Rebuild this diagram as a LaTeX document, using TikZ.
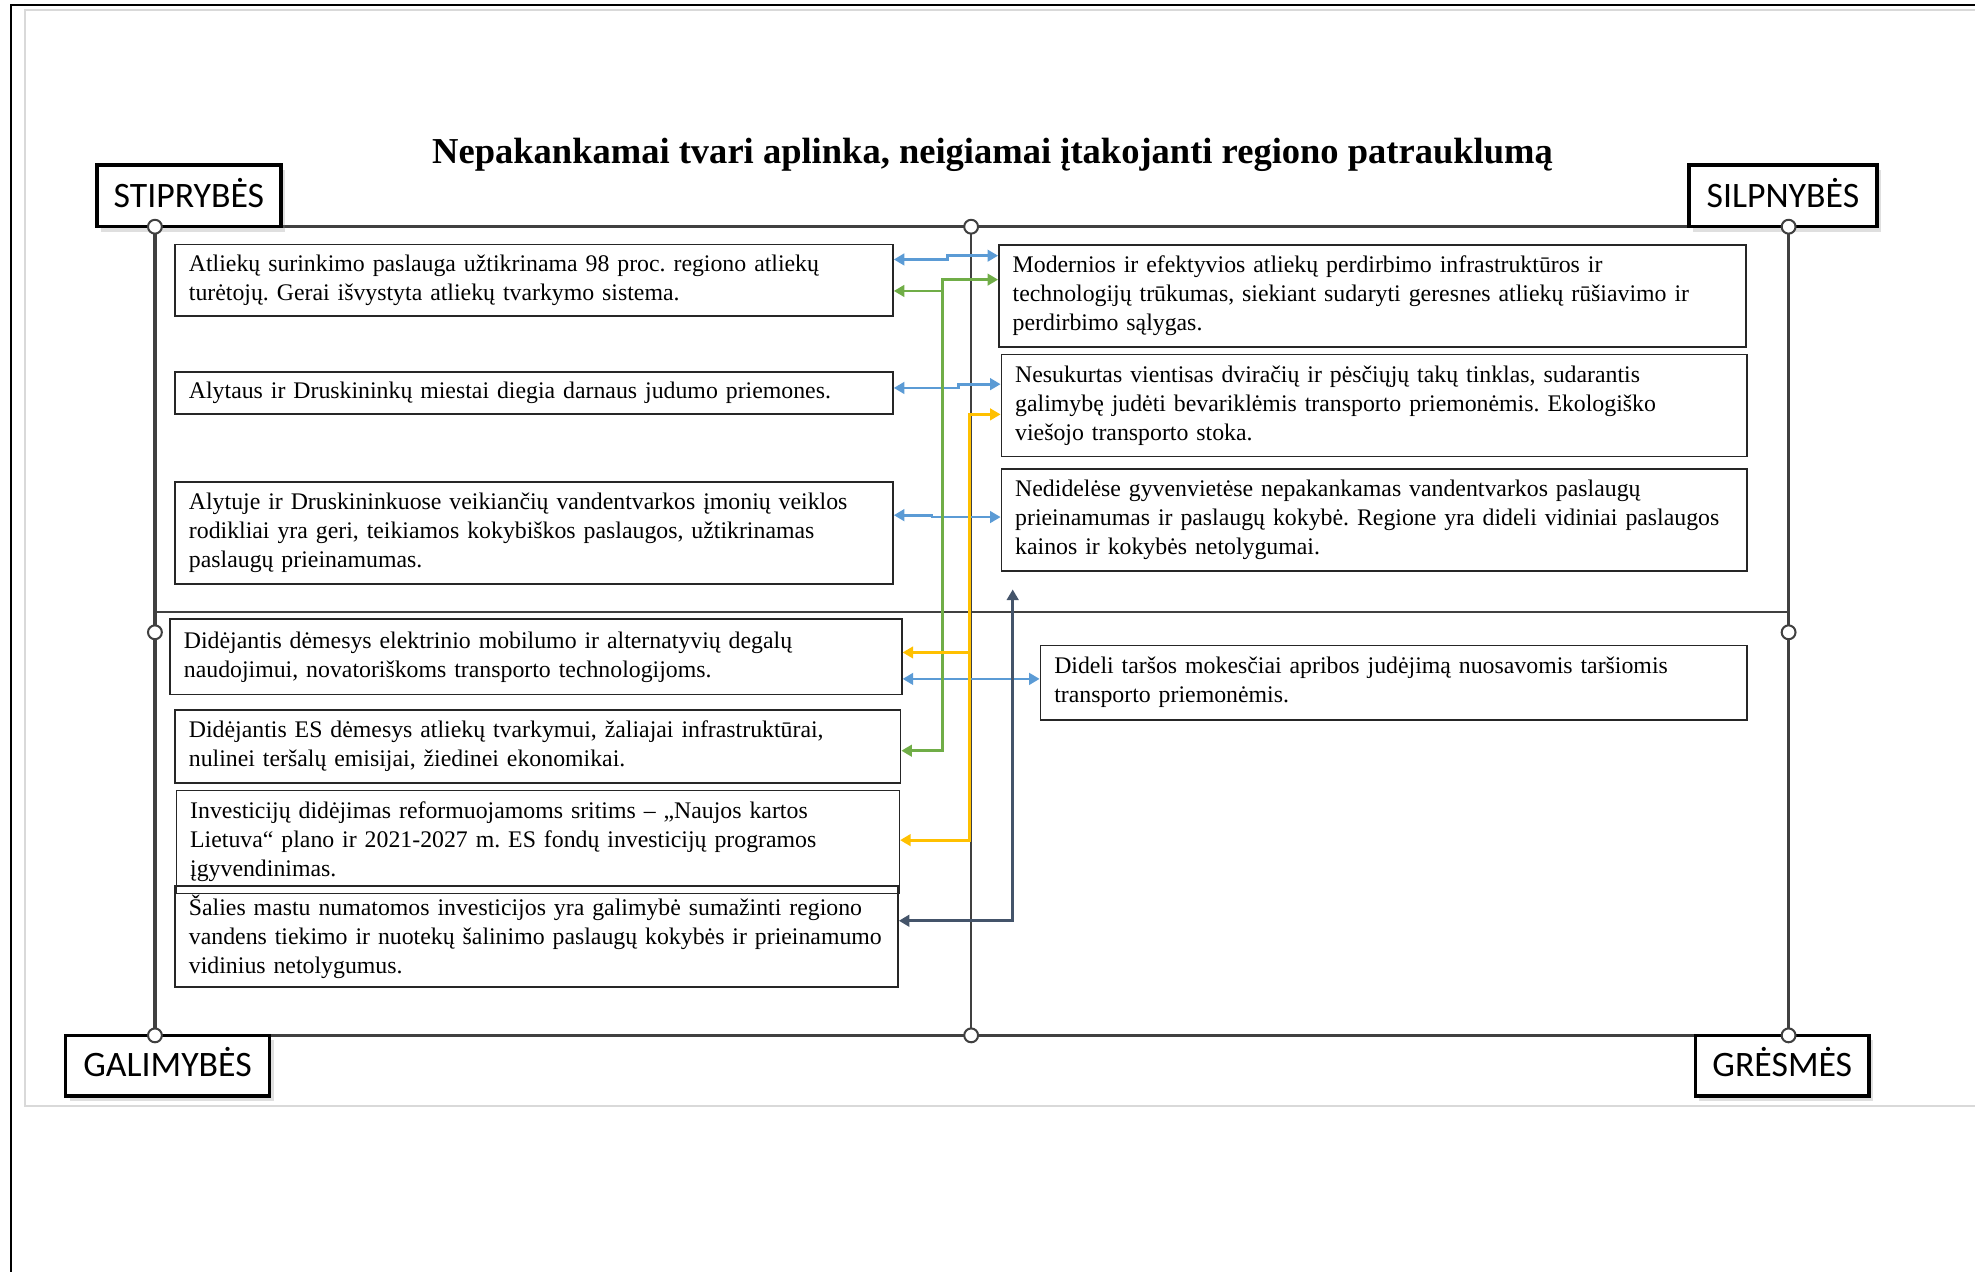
\documentclass[tikz,border=0pt]{standalone}
\usepackage{fontspec}
\setmainfont{Liberation Serif}
\newfontfamily\labelfont{Carlito}
\usetikzlibrary{arrows.meta,shadows}
\definecolor{frameline}{HTML}{404040}
\definecolor{arrowblue}{HTML}{5B9BD5}
\definecolor{arrowgreen}{HTML}{70AD47}
\definecolor{arrowyellow}{HTML}{FFC000}
\definecolor{arrowslate}{HTML}{44546A}
\frenchspacing
\begin{document}
\begin{tikzpicture}[x=0.5pt,y=-0.5pt,>={Triangle[length=4.2pt,width=4.6pt]},
  box/.style={draw=black!85,line width=0.6pt,inner xsep=5.5pt,inner ysep=0pt,align=left,
    font=\fontsize{9.45}{11.5}\selectfont},
  swot/.style={draw=black,line width=1.4pt,fill=white,inner sep=0pt,text height=9pt,text depth=0pt,
    font=\labelfont\fontsize{14.2}{16}\selectfont,
    drop shadow={shadow xshift=1.6pt,shadow yshift=-2pt,opacity=0.25}},
  link/.style={line width=1.1pt},
  hub/.style={circle,draw=frameline,fill=white,line width=0.8pt,inner sep=0pt,minimum size=5.5pt}]
\useasboundingbox (0,0) rectangle (1568,1010);
% page edges
\draw[black!15,line width=1pt] (1568,8) -- (20,8) -- (20,878) -- (1568,878);
\draw[line width=0.8pt] (1568,4) -- (9,4) -- (9,1010);
% title
\node[font=\bfseries\fontsize{14.5}{17}\selectfont,anchor=base] (title) at (788,130)
  {Nepakankamai tvari aplinka, neigiamai įtakojanti regiono patrauklumą};
% frame
\draw[frameline,line width=1.3pt] (123,180) rectangle (1420,822);
\draw[frameline,line width=0.9pt] (771,180) -- (771,822);
\draw[frameline,line width=0.9pt] (123,486) -- (1420,486);
% quadrant labels
\node[swot,minimum width=73pt,minimum height=24.5pt] (str) at (150,155.5) {STIPRYBĖS};
\node[swot,minimum width=74.5pt,minimum height=24.5pt] (wea) at (1415.5,155.5) {SILPNYBĖS};
\node[swot,minimum width=81pt,minimum height=24pt] (opp) at (133,846) {GALIMYBĖS};
\node[swot,minimum width=69pt,minimum height=24pt] (thr) at (1415,846) {GRĖSMĖS};
\foreach \x/\y in {123/180,771/180,1420/180,123/502,1420/502,123/822,771/822,1420/822}
  \node[hub] (hub\x-\y) at (\x,\y) {};
% strengths
\node[box,text width=274pt,minimum height=28.5pt] (s1) at (424,222.5)
  {Atliekų surinkimo paslauga užtikrinama 98 proc. regiono atliekų\\turėtojų. Gerai išvystyta atliekų tvarkymo sistema.};
\node[box,text width=274pt,minimum height=16.5pt] (s2) at (424,312)
  {Alytaus ir Druskininkų miestai diegia darnaus judumo priemones.};
\node[box,text width=274pt,minimum height=40.5pt] (s3) at (424,423)
  {Alytuje ir Druskininkuose veikiančių vandentvarkos įmonių veiklos\\rodikliai yra geri, teikiamos kokybiškos paslaugos, užtikrinamas\\paslaugų prieinamumas.};
% weaknesses
\node[box,text width=285.5pt,minimum height=40.5pt] (w1) at (1089.5,235)
  {Modernios ir efektyvios atliekų perdirbimo infrastruktūros ir\\technologijų trūkumas, siekiant sudaryti geresnes atliekų rūšiavimo ir\\perdirbimo sąlygas.};
\node[box,text width=285pt,minimum height=40.5pt] (w2) at (1091,322)
  {Nesukurtas vientisas dviračių ir pėsčiųjų takų tinklas, sudarantis\\galimybę judėti bevariklėmis transporto priemonėmis. Ekologiško\\viešojo transporto stoka.};
\node[box,text width=285pt,minimum height=40.5pt] (w3) at (1091,413)
  {Nedidelėse gyvenvietėse nepakankamas vandentvarkos paslaugų\\prieinamumas ir paslaugų kokybė. Regione yra dideli vidiniai paslaugos\\kainos ir kokybės netolygumai.};
% opportunities
\node[box,text width=279.5pt,minimum height=30pt] (o1) at (425.5,521.5)
  {Didėjantis dėmesys elektrinio mobilumo ir alternatyvių degalų\\naudojimui, novatoriškoms transporto technologijoms.};
\node[box,text width=277pt,minimum height=29pt] (o2) at (427,592.5)
  {Didėjantis ES dėmesys atliekų tvarkymui, žaliajai infrastruktūrai,\\nulinei teršalų emisijai, žiedinei ekonomikai.};
\node[box,text width=276pt,minimum height=41pt] (o3) at (427,668.5)
  {Investicijų didėjimas reformuojamoms sritims – „Naujos kartos\\Lietuva“ plano ir 2021-2027 m. ES fondų investicijų programos\\įgyvendinimas.};
\node[box,text width=276pt,minimum height=40pt] (o4) at (426,743.5)
  {Šalies mastu numatomos investicijos yra galimybė sumažinti regiono\\vandens tiekimo ir nuotekų šalinimo paslaugų kokybės ir prieinamumo\\vidinius netolygumus.};
% threats
\node[box,text width=269.5pt,minimum height=29.5pt] (t1) at (1106.5,542)
  {Dideli taršos mokesčiai apribos judėjimą nuosavomis taršiomis\\transporto priemonėmis.};
% links
\draw[arrowblue,link,<->] (s1.east |- 0,206) -- (752,206) -- (752,203) -- (w1.west |- 0,203);
\draw[arrowblue,link,<->] (s2.east |- 0,308) -- (761,308) -- (761,305) -- (w2.west |- 0,305);
\draw[arrowblue,link,<->] (s3.east |- 0,409) -- (740,409) -- (740,410.5) -- (w3.west |- 0,410.5);
\draw[arrowblue,link,<->] (o1.east |- 0,539) -- (t1.west |- 0,539);
\draw[arrowgreen,link,->] (748,231) -- (s1.east |- 0,231);
\draw[arrowgreen,link,<->] (w1.west |- 0,222) -- (748,222) -- (748,596) -- (o2.east |- 0,596);
\draw[arrowyellow,link,->] (769.5,518) -- (o1.east |- 0,518);
\draw[arrowyellow,link,<->] (w2.west |- 0,329) -- (769.5,329) -- (769.5,667) -- (o3.east |- 0,667);
\coordinate (gap) at (804,468);
\draw[arrowslate,link,<->] (o4.east |- 0,731) -- (804,731) -- (gap);
\end{tikzpicture}
\end{document}
